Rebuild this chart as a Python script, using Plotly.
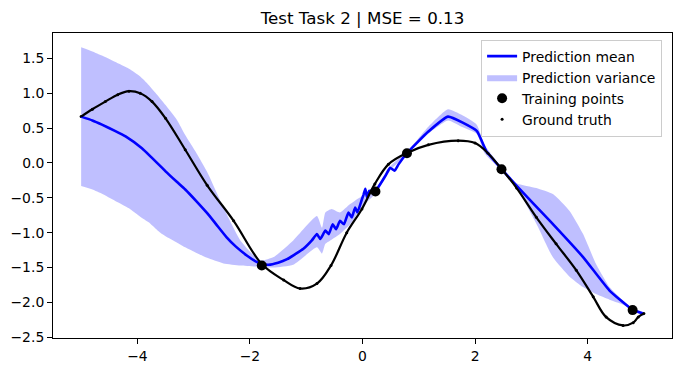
import plotly.graph_objects as go

# Prediction variance band
band_x = [-5.0, -4.8, -4.63, -4.4, -4.15, -3.95, -3.8, -3.65, -3.56, -3.5, -3.3, -3.15, -2.95,
          -2.76, -2.47, -2.17, -1.82, -1.58, -1.23,
          -0.81, -0.72, -0.66, -0.55, -0.4, -0.22, 0.0, 0.23, 0.5, 0.79, 1.17, 1.52, 1.76,
          2.03, 2.17, 2.47, 2.74, 3.09, 3.39, 3.68, 3.92, 4.15, 4.39, 4.69, 4.8, 5.0]
band_upper = [1.66, 1.60, 1.54, 1.45, 1.35, 1.24, 1.12, 0.98, 0.89, 0.83, 0.62, 0.40, 0.14,
              -0.13, -0.64, -1.11, -1.40, -1.35, -1.11,
              -0.76, -0.93, -0.71, -0.66, -0.71, -0.59, -0.47, -0.37, -0.04, 0.16, 0.52, 0.77, 0.69,
              0.55, 0.26, -0.06, -0.29, -0.36, -0.45, -0.69, -1.02, -1.45, -1.78, -2.02, -2.09, -2.14]
band_lower = [-0.33, -0.38, -0.44, -0.54, -0.65, -0.77, -0.85, -0.96, -1.02, -1.05, -1.14, -1.21, -1.29,
              -1.36, -1.44, -1.47, -1.49, -1.50, -1.46,
              -1.21, -1.30, -1.16, -1.10, -1.02, -0.88, -0.62, -0.44, -0.10, 0.12, 0.42, 0.61, 0.52,
              0.42, 0.14, -0.11, -0.36, -0.87, -1.36, -1.63, -1.78, -1.88, -1.96, -2.05, -2.12, -2.19]

# Prediction mean
mean_x = [-5.0, -4.8, -4.63, -4.4, -4.21, -3.92, -3.75, -3.56, -3.5, -3.3, -3.15, -2.95, -2.76,
          -2.6, -2.41, -2.25, -2.05, -1.9, -1.78, -1.67, -1.5, -1.34, -1.2, -1.05, -0.9,
          -0.81, -0.75, -0.66, -0.6, -0.53, -0.47, -0.4, -0.33, -0.25, -0.19,
          -0.13, -0.09, -0.01, 0.02, 0.05, 0.08, 0.12, 0.23, 0.41, 0.49, 0.57, 0.64, 0.79,
          1.17, 1.52, 2.03, 2.2, 2.47, 2.74, 3.33, 3.92, 4.39, 4.79, 4.98]
mean_y = [0.665, 0.61, 0.55, 0.46, 0.38, 0.21, 0.08, -0.07, -0.12, -0.27, -0.38, -0.55, -0.72,
          -0.88, -1.07, -1.20, -1.33, -1.41, -1.45, -1.46, -1.43, -1.38, -1.31, -1.23, -1.11,
          -1.02, -1.09, -0.97, -1.02, -0.88, -0.95, -0.83, -0.88, -0.71, -0.78,
          -0.64, -0.71, -0.52, -0.45, -0.37, -0.49, -0.40, -0.40, -0.18, -0.07, -0.11, -0.02, 0.14,
          0.45, 0.665, 0.46, 0.17, -0.085, -0.33, -0.83, -1.35, -1.83, -2.10, -2.16]

# Ground truth
gt_x = [-5.0, -4.8, -4.57, -4.35, -4.15, -3.95, -3.74, -3.5, -3.15, -2.76, -2.29, -1.79,
        -1.4, -1.11, -0.81, -0.56, -0.28, -0.01, 0.22, 0.46, 0.78, 1.17, 1.7, 2.0, 2.23,
        2.47, 2.74, 3.09, 3.44, 3.8, 4.1, 4.33, 4.63, 4.81, 4.9, 5.0]
gt_y = [0.665, 0.77, 0.88, 0.98, 1.03, 1.0, 0.88, 0.64, 0.19, -0.32, -0.83, -1.45,
        -1.68, -1.80, -1.73, -1.47, -1.0, -0.66, -0.30, -0.02, 0.14, 0.26, 0.32, 0.285, 0.14,
        -0.085, -0.36, -0.78, -1.16, -1.54, -1.92, -2.21, -2.33, -2.29, -2.21, -2.16]

# Training points
train_x = [-1.79, 0.23, 0.79, 2.47, 4.80]
train_y = [-1.47, -0.41, 0.14, -0.09, -2.11]

title_text = "Test Task 2 | MSE = 0.13"
x_ticks = [-4, -2, 0, 2, 4]
y_ticks = [-2.5, -2.0, -1.5, -1.0, -0.5, 0.0, 0.5, 1.0, 1.5]

FONT = "DejaVu Sans"

fig = go.Figure()

fig.add_trace(go.Scatter(
    x=band_x + band_x[::-1], y=band_upper + band_lower[::-1],
    fill="toself", fillcolor="rgba(0,0,255,0.25)", mode="lines",
    line=dict(width=0, color="rgba(0,0,255,0.25)", shape="spline", smoothing=0.5),
    name="Prediction variance", legendrank=2, hoverinfo="skip"))

fig.add_trace(go.Scatter(
    x=gt_x, y=gt_y, mode="markers", marker=dict(color="black", size=3),
    name="Ground truth", legendrank=4))

fig.add_trace(go.Scatter(
    x=mean_x, y=mean_y, mode="lines",
    line=dict(color="blue", width=2.6, shape="spline", smoothing=0.4),
    name="Prediction mean", legendrank=1))

fig.add_trace(go.Scatter(
    x=gt_x, y=gt_y, mode="lines", line=dict(color="black", width=2.2, shape="spline", smoothing=1.0),
    name="Ground truth", showlegend=False))

fig.add_trace(go.Scatter(
    x=train_x, y=train_y, mode="markers", marker=dict(color="black", size=10),
    name="Training points", legendrank=3))

axis_common = dict(
    showline=True, linecolor="black", linewidth=1, mirror=True,
    ticks="outside", ticklen=5, tickcolor="black", tickwidth=1,
    showgrid=False, zeroline=False,
    tickfont=dict(family=FONT, size=13.9, color="black"),
)

fig.update_layout(
    width=683, height=374,
    margin=dict(l=53, r=10, t=33, b=34),
    paper_bgcolor="white", plot_bgcolor="white",
    font=dict(family=FONT, color="black"),
    title=dict(text=title_text, x=0.5, xref="paper", xanchor="center",
               y=1 - 18.5 / 374, yref="container", yanchor="middle",
               font=dict(family=FONT, size=16.7, color="black")),
    xaxis=dict(range=[-5.5, 5.5], tickvals=x_ticks, **axis_common),
    yaxis=dict(range=[-2.51, 1.864], tickvals=y_ticks, tickformat=".1f", **axis_common),
    legend=dict(x=0.984, y=0.9785, xanchor="right", yanchor="top",
                bgcolor="rgba(255,255,255,0.8)", bordercolor="#cccccc", borderwidth=1,
                font=dict(family=FONT, size=13.9, color="black"),
                tracegroupgap=0, itemwidth=30),
    showlegend=True,
)

fig.write_html("out.html", config={"displayModeBar": False},
               post_script="document.body.style.margin='0px';")
